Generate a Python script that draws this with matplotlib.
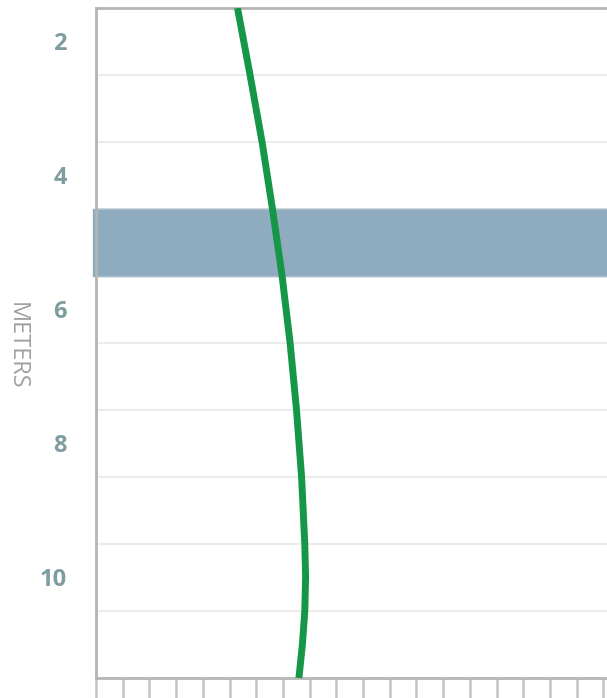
import numpy as np
import matplotlib.pyplot as plt

plt.rcParams["font.family"] = ["Open Sans", "DejaVu Sans"]

# %%

# Perfil (profundidade em metros, posição horizontal em unidades de tick)
depth = [1.5, 2.5, 3.5, 4.5, 5.5, 6.5, 7.5, 8.5, 9.5, 10.0, 10.5, 11.0, 11.5]
value = [5.30, 5.77, 6.22, 6.61, 6.97, 7.27, 7.51, 7.70, 7.82, 7.85, 7.82, 7.73, 7.60]

band = (4.5, 5.5)
y_labels = [2, 4, 6, 8, 10]
grid_lines = [2.5, 3.5, 4.5, 5.5, 6.5, 7.5, 8.5, 9.5, 10.5]

# %%

fig = plt.figure(figsize=(6.07, 6.98), dpi=100)
ax = fig.add_axes([96 / 607, 20 / 698, 1 - 96 / 607, 670 / 698])

ax.set_ylim(11.5, 1.5)
ax.set_xlim(0, 511 / 26.7)

for g in grid_lines:
    ax.axhline(g, color="#ececec", lw=1.5, zorder=1)

ax.axhspan(band[0], band[1], xmin=-0.006, xmax=1, color="#8eabc0", zorder=2, clip_on=False)
ax.axhline(band[0], color="#a9bccb", lw=1, zorder=2)
ax.axhline(band[1], color="#a9bccb", lw=1, zorder=2)

ax.plot(value, depth, color="#159747", lw=5, solid_capstyle="butt", solid_joinstyle="round", zorder=3)

ax.set_yticks(y_labels)
ax.set_yticklabels([str(v) for v in y_labels], fontsize=17, fontweight="bold", color="#7f9ca0")
ax.tick_params(axis="y", length=0, pad=21)

ax.set_xticks(np.arange(0, 20))
ax.set_xticklabels([])
ax.tick_params(axis="x", direction="out", length=15, width=1.8, color="#c4c4c4")

ax.set_ylabel("METERS", rotation=-90, fontsize=17, color="#a0a0a0", va="center", ha="center")
ax.yaxis.set_label_coords(-0.155, 0.496)

for s in ["left", "top", "bottom"]:
    ax.spines[s].set_color("#b5b5b5")
    ax.spines[s].set_linewidth(2)
ax.spines["right"].set_visible(False)

fig.savefig("out.png", dpi=100)
